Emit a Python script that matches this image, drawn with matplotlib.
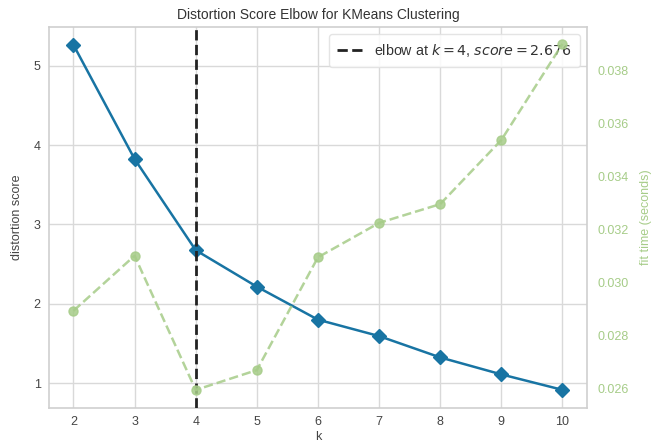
import matplotlib
matplotlib.use("Agg")
import matplotlib.pyplot as plt

k_values = [2, 3, 4, 5, 6, 7, 8, 9, 10]
distortion = [5.265, 3.826, 2.676, 2.216, 1.800, 1.593, 1.324, 1.110, 0.915]
fit_time = [0.02893, 0.03101, 0.02594, 0.02669, 0.03095, 0.03225, 0.03296, 0.03538, 0.03901]
elbow_k = 4
elbow_score = 2.676
left_ticks = [1, 2, 3, 4, 5]
right_ticks = [0.026, 0.028, 0.030, 0.032, 0.034, 0.036, 0.038]

plt.rcParams['font.family'] = ['Liberation Sans', 'DejaVu Sans']
plt.rcParams['mathtext.fontset'] = 'dejavusans'

BLUE = '#1874a3'
GREEN = '#a6cc88'
GRID = '#d9d9d9'
TEXT = '#444444'

fig = plt.figure(figsize=(6.55, 4.43), dpi=100)
ax = fig.add_axes([0.0748, 0.0797, 0.8212, 0.8593])
ax.set_facecolor('white')
ax.grid(True, color=GRID, linewidth=1.0)
ax.set_axisbelow(True)
for s in ax.spines.values():
    s.set_color('#cfcfcf')
    s.set_linewidth(1.2)

ax.plot(k_values, distortion, color=BLUE, marker='D', markersize=7, linewidth=1.8, zorder=3)
ax.axvline(elbow_k, color='#222222', linestyle='--', linewidth=2,
           label=f"elbow at $k={elbow_k}$, $score={elbow_score:.3f}$", zorder=4)
ax.set_xlim(1.6, 10.4)
ax.set_ylim(0.69, 5.49)
ax.set_xticks(k_values)
ax.set_yticks(left_ticks)
ax.tick_params(axis='both', length=0, labelsize=9, labelcolor=TEXT, pad=6)
ax.set_xlabel('k', fontsize=9, color=TEXT, labelpad=2)
ax.set_ylabel('distortion score', fontsize=9, color=TEXT, labelpad=8)
ax.set_title('Distortion Score Elbow for KMeans Clustering', fontsize=10, color='#333333', pad=6)

ax2 = ax.twinx()
ax2.plot(k_values, fit_time, color=GREEN, marker='o', markersize=6.5, linestyle='--',
         linewidth=1.8, alpha=0.85, zorder=2)
ax2.set_ylim(0.02527, 0.03965)
ax2.set_yticks(right_ticks)
ax2.set_yticklabels([f"{t:.3f}" for t in right_ticks])
ax2.grid(False)
ax2.tick_params(axis='y', length=0, labelsize=9, labelcolor=GREEN, pad=8)
ax2.set_ylabel('fit time (seconds)', fontsize=9, color=GREEN, labelpad=8)
for s in ax2.spines.values():
    s.set_visible(False)

leg = ax.legend(loc='upper right', fontsize=10.3, frameon=True, fancybox=True,
                handlelength=1.8, borderpad=0.55)
leg.get_frame().set_edgecolor('#e0e0e0')
leg.get_frame().set_facecolor('white')
leg.get_frame().set_alpha(0.85)
leg.set_zorder(10)
for t in leg.get_texts():
    t.set_color('#333333')

fig.savefig('out.png', dpi=100)
